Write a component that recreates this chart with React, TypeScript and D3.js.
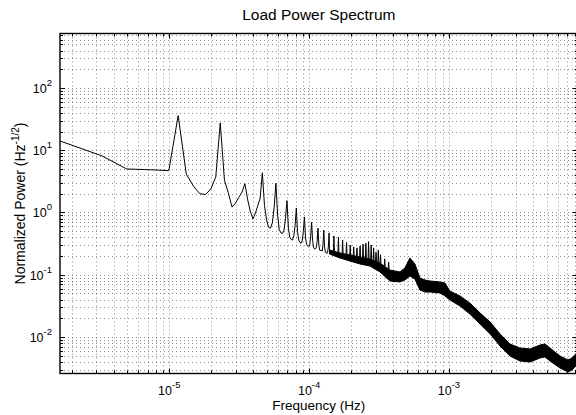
/**
 * Load Power Spectrum. Log-log amplitude spectrum of a one-week load record
 * (bin spacing 1/604800 Hz), daily harmonics visible as spikes, MATLAB-like frame.
 */
import React, { useRef, useEffect } from 'react';
import * as d3 from 'd3';

const WIDTH = 576;
const HEIGHT = 415;
const PLOT = { left: 60, right: 577.7, top: 33.5, bottom: 373.5 };
const FONT = 'Liberation Sans, Arial, Helvetica, sans-serif';

const RECORD_SECONDS = 604800; // one week -> first bin
const DAY_SECONDS = 86400;
const X_DOMAIN = [1 / 604800, 1 / 120];
const Y_DOMAIN = [0.00259, 751];
const X_TICK_EXPS = [-5, -4, -3];
const Y_TICK_EXPS = [-2, -1, 0, 1, 2];

// individual low-frequency bins (k * 1/week)
const lowBins = [
  1, 2, 3, 4, 5, 6, 7, 8, 9, 10, 11, 12, 13, 14, 15, 16, 17, 18, 19, 20, 21,
  22, 23, 24, 25, 26, 27, 28, 29, 30, 31, 32, 33, 34, 35, 36, 37, 38, 39, 40,
  41, 42, 43, 44, 45, 46, 47, 48, 49, 50, 51, 52, 53, 54, 55, 56, 57, 58, 59,
  60, 61, 62, 63, 64, 65, 66, 67, 68, 69, 70, 71, 72, 73, 74, 75, 76, 77, 78,
  79, 80, 81, 82, 83, 84,
];
const lowPower = [
  14.1, 8.1, 5.0, 4.9, 4.8, 4.7, 36, 4.15, 2.65, 2.0, 1.95, 2.4, 3.7, 27.5,
  3.3, 2.05, 1.22, 1.42, 1.75, 2.1, 2.9, 1.6, 1.02, 0.79, 0.98, 1.3, 1.7, 4.35,
  1.3, 0.76, 0.58, 0.56, 0.68, 1.2, 2.95, 0.9, 0.53, 0.47, 0.46, 0.52, 0.8,
  1.55, 0.56, 0.4, 0.37, 0.36, 0.42, 0.62, 1.18, 0.49, 0.36, 0.33, 0.32, 0.35,
  0.5, 0.85, 0.39, 0.31, 0.29, 0.28, 0.29, 0.4, 0.7, 0.36, 0.28, 0.26, 0.26,
  0.27, 0.34, 0.56, 0.3, 0.25, 0.24, 0.25, 0.24, 0.3, 0.52, 0.28, 0.23, 0.23,
  0.22, 0.23, 0.28, 0.47,
];

// daily harmonics (n cycles/day) sticking out of the dense part
const harmonicN = [13, 14, 15, 16, 17, 18, 19, 20, 21, 22, 23, 24, 25, 26, 27, 28, 30, 32];
const harmonicPower = [
  0.42, 0.4, 0.36, 0.33, 0.3, 0.28, 0.27, 0.29, 0.31, 0.32, 0.34, 0.3, 0.27,
  0.23, 0.25, 0.21, 0.18, 0.16,
];

// dense part: noise band envelope
const bandHz = [
  1.4e-4, 1.66e-4, 1.96e-4, 2.31e-4, 2.72e-4, 3.21e-4, 3.78e-4, 4.46e-4,
  4.84e-4, 5.26e-4, 5.71e-4, 6.2e-4, 6.73e-4, 7.31e-4, 8.63e-4, 9.36e-4,
  1.016e-3, 1.2e-3, 1.41e-3, 1.67e-3, 1.97e-3, 2.32e-3, 2.73e-3, 3.22e-3,
  3.8e-3, 4.48e-3, 4.86e-3, 5.28e-3, 6.22e-3, 7.1e-3, 7.59e-3, 8.33e-3,
];
const bandLow = [
  0.215, 0.186, 0.166, 0.149, 0.138, 0.111, 0.0794, 0.0765, 0.0824, 0.0955,
  0.0855, 0.0569, 0.0528, 0.0528, 0.0509, 0.0456, 0.0393, 0.0315, 0.0234,
  0.0162, 0.0112, 0.00717, 0.00495, 0.00411, 0.00396, 0.0046, 0.00478,
  0.00411, 0.00318, 0.00274, 0.00295, 0.00368,
];
const bandHigh = [
  0.25, 0.224, 0.208, 0.193, 0.179, 0.154, 0.119, 0.111, 0.128, 0.186, 0.149,
  0.0887, 0.0824, 0.0794, 0.0765, 0.0736, 0.0548, 0.0456, 0.0352, 0.0243,
  0.0174, 0.0112, 0.00772, 0.00665, 0.00641, 0.00743, 0.00772, 0.00665,
  0.00495, 0.00428, 0.0046, 0.00574,
];

const logTicks = (lo: number, hi: number) => {
  const out: { v: number; major: boolean }[] = [];
  for (let e = Math.floor(Math.log10(lo)); e <= Math.ceil(Math.log10(hi)); e++) {
    for (let m = 1; m <= 9; m++) {
      const v = m * Math.pow(10, e);
      if (v >= lo && v <= hi) out.push({ v, major: m === 1 });
    }
  }
  return out;
};

const Chart: React.FC = () => {
  const svgRef = useRef<SVGSVGElement>(null);

  useEffect(() => {
    if (!svgRef.current) return;
    const svg = d3.select(svgRef.current);
    svg.selectAll('*').remove();

    const x = d3.scaleLog().domain(X_DOMAIN).range([PLOT.left, PLOT.right]);
    const y = d3.scaleLog().domain(Y_DOMAIN).range([PLOT.bottom, PLOT.top]);

    svg.append('rect').attr('width', WIDTH).attr('height', HEIGHT).attr('fill', '#fff');

    svg
      .append('defs')
      .append('clipPath')
      .attr('id', 'plot-clip')
      .append('rect')
      .attr('x', PLOT.left)
      .attr('y', PLOT.top)
      .attr('width', PLOT.right - PLOT.left)
      .attr('height', PLOT.bottom - PLOT.top);

    const xt = logTicks(X_DOMAIN[0], X_DOMAIN[1]);
    const yt = logTicks(Y_DOMAIN[0], Y_DOMAIN[1]);

    // dotted grid, major + minor
    const grid = svg.append('g').attr('stroke', '#000').attr('stroke-width', 1).attr('stroke-dasharray', '1,3').attr('stroke-opacity', 0.45);
    xt.forEach((t) => {
      const px = Math.round(x(t.v)) + 0.5;
      grid.append('line').attr('x1', px).attr('x2', px).attr('y1', PLOT.top).attr('y2', PLOT.bottom);
    });
    yt.forEach((t) => {
      const py = Math.round(y(t.v)) + 0.5;
      grid.append('line').attr('x1', PLOT.left).attr('x2', PLOT.right).attr('y1', py).attr('y2', py);
    });

    // data
    const data = svg.append('g').attr('clip-path', 'url(#plot-clip)');
    const band = bandHz.map((f, i) => ({ f, lo: bandLow[i], hi: bandHigh[i] }));
    data
      .append('path')
      .attr(
        'd',
        d3
          .area<{ f: number; lo: number; hi: number }>()
          .x((d) => x(d.f))
          .y0((d) => y(d.lo))
          .y1((d) => y(d.hi))(band) ?? ''
      )
      .attr('fill', '#000')
      .attr('stroke', '#000')
      .attr('stroke-width', 1)
      .attr('stroke-linejoin', 'round');

    const low = lowBins.map((k, i) => [k / RECORD_SECONDS, lowPower[i]] as [number, number]);
    low.push([bandHz[0], Math.sqrt(bandLow[0] * bandHigh[0])]);
    data
      .append('path')
      .attr(
        'd',
        d3
          .line<[number, number]>()
          .x((d) => x(d[0]))
          .y((d) => y(d[1]))(low) ?? ''
      )
      .attr('fill', 'none')
      .attr('stroke', '#000')
      .attr('stroke-width', 1);

    const bandTop = (f: number) => {
      const i = Math.max(1, d3.bisectLeft(bandHz, f));
      const t = (Math.log(f) - Math.log(bandHz[i - 1])) / (Math.log(bandHz[i]) - Math.log(bandHz[i - 1]));
      return Math.exp(Math.log(bandHigh[i - 1]) + t * (Math.log(bandHigh[i]) - Math.log(bandHigh[i - 1])));
    };
    harmonicN.forEach((n, i) => {
      const f = n / DAY_SECONDS;
      const base = bandTop(f);
      data
        .append('path')
        .attr('d', `M${x(f * 0.992)},${y(base)}L${x(f)},${y(harmonicPower[i])}L${x(f * 1.008)},${y(base)}`)
        .attr('fill', 'none')
        .attr('stroke', '#000')
        .attr('stroke-width', 1);
    });

    // ticks (inside, all four sides)
    const ticks = svg.append('g').attr('stroke', '#000').attr('stroke-width', 1);
    xt.forEach((t) => {
      const px = Math.round(x(t.v)) + 0.5;
      const len = t.major ? 5 : 3;
      ticks.append('line').attr('x1', px).attr('x2', px).attr('y1', PLOT.bottom).attr('y2', PLOT.bottom - len);
      ticks.append('line').attr('x1', px).attr('x2', px).attr('y1', PLOT.top).attr('y2', PLOT.top + len);
    });
    yt.forEach((t) => {
      const py = Math.round(y(t.v)) + 0.5;
      const len = t.major ? 5 : 3;
      ticks.append('line').attr('x1', PLOT.left).attr('x2', PLOT.left + len).attr('y1', py).attr('y2', py);
      ticks.append('line').attr('x1', PLOT.right).attr('x2', PLOT.right - len).attr('y1', py).attr('y2', py);
    });

    // frame
    svg
      .append('rect')
      .attr('x', PLOT.left)
      .attr('y', PLOT.top)
      .attr('width', PLOT.right - PLOT.left)
      .attr('height', PLOT.bottom - PLOT.top)
      .attr('fill', 'none')
      .attr('stroke', '#000')
      .attr('stroke-width', 1.4);

    // tick labels
    const labels = svg.append('g').attr('font-family', FONT).attr('fill', '#000');
    X_TICK_EXPS.forEach((e) => {
      const t = labels
        .append('text')
        .attr('x', x(Math.pow(10, e)))
        .attr('y', 395)
        .attr('text-anchor', 'middle')
        .attr('font-size', 12.5);
      t.append('tspan').text('10');
      t.append('tspan').attr('dy', -7).attr('font-size', 9.5).text(String(e));
    });
    Y_TICK_EXPS.forEach((e) => {
      const t = labels
        .append('text')
        .attr('x', 52)
        .attr('y', y(Math.pow(10, e)) + 5)
        .attr('text-anchor', 'end')
        .attr('font-size', 12.5);
      t.append('tspan').text('10');
      t.append('tspan').attr('dy', -7).attr('font-size', 9.5).text(String(e));
    });

    // axis titles
    labels
      .append('text')
      .attr('x', (PLOT.left + PLOT.right) / 2)
      .attr('y', 410)
      .attr('text-anchor', 'middle')
      .attr('font-size', 13.5)
      .text('Frequency (Hz)');

    const yl = labels
      .append('text')
      .attr('transform', `translate(25, ${(PLOT.top + PLOT.bottom) / 2}) rotate(-90)`)
      .attr('text-anchor', 'middle')
      .attr('font-size', 14);
    yl.append('tspan').text('Normalized Power (Hz');
    yl.append('tspan').attr('dy', -6).attr('font-size', 10).text('-1/2');
    yl.append('tspan').attr('dy', 6).text(')');

    labels
      .append('text')
      .attr('x', (PLOT.left + PLOT.right) / 2)
      .attr('y', 20)
      .attr('text-anchor', 'middle')
      .attr('font-size', 15.5)
      .text('Load Power Spectrum');
  }, []);

  return <svg ref={svgRef} width={WIDTH} height={HEIGHT} viewBox={`0 0 ${WIDTH} ${HEIGHT}`} style={{ position: 'absolute', left: 0, top: 0 }} />;
};

export default function App() {
  return <Chart />;
}
